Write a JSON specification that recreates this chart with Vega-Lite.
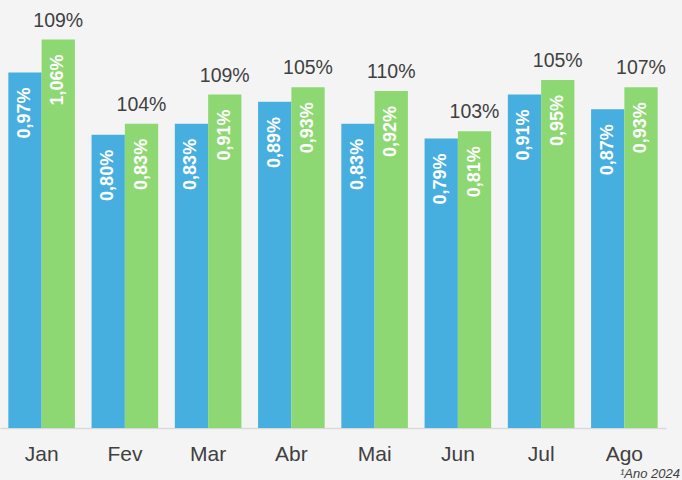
{
  "$schema": "https://vega.github.io/schema/vega-lite/v6.json",
  "width": 666,
  "height": 428,
  "autosize": "none",
  "padding": {"left": 0, "top": 0, "right": 16, "bottom": 52},
  "background": "#F4F4F4",
  "config": {"view": {"stroke": null}, "font": "Liberation Sans"},
  "title": {"text": "¹Ano 2024", "orient": "bottom", "anchor": "end", "fontStyle": "italic", "fontWeight": "normal", "fontSize": 13, "color": "#404040", "offset": 4, "dx": 14},
  "data": {"values": [
    {"month": "Jan", "series": "A", "value": 0.97, "label": "0,97%"},
    {"month": "Jan", "series": "B", "value": 1.06, "label": "1,06%", "ratio": "109%"},
    {"month": "Fev", "series": "A", "value": 0.80, "label": "0,80%"},
    {"month": "Fev", "series": "B", "value": 0.83, "label": "0,83%", "ratio": "104%"},
    {"month": "Mar", "series": "A", "value": 0.83, "label": "0,83%"},
    {"month": "Mar", "series": "B", "value": 0.91, "label": "0,91%", "ratio": "109%"},
    {"month": "Abr", "series": "A", "value": 0.89, "label": "0,89%"},
    {"month": "Abr", "series": "B", "value": 0.93, "label": "0,93%", "ratio": "105%"},
    {"month": "Mai", "series": "A", "value": 0.83, "label": "0,83%"},
    {"month": "Mai", "series": "B", "value": 0.92, "label": "0,92%", "ratio": "110%"},
    {"month": "Jun", "series": "A", "value": 0.79, "label": "0,79%"},
    {"month": "Jun", "series": "B", "value": 0.81, "label": "0,81%", "ratio": "103%"},
    {"month": "Jul", "series": "A", "value": 0.91, "label": "0,91%"},
    {"month": "Jul", "series": "B", "value": 0.95, "label": "0,95%", "ratio": "105%"},
    {"month": "Ago", "series": "A", "value": 0.87, "label": "0,87%"},
    {"month": "Ago", "series": "B", "value": 0.93, "label": "0,93%", "ratio": "107%"}
  ]},
  "encoding": {
    "x": {"field": "month", "type": "nominal", "sort": ["Jan", "Fev", "Mar", "Abr", "Mai", "Jun", "Jul", "Ago"],
      "scale": {"paddingInner": 0.2, "paddingOuter": 0.1},
      "axis": {"title": null, "labelAngle": 0, "labelFontSize": 21, "labelColor": "#404040", "ticks": false, "domainColor": "#D9D9D9", "domainWidth": 1.5, "labelPadding": 15}},
    "xOffset": {"field": "series", "type": "nominal", "scale": {"paddingInner": 0, "paddingOuter": 0}},
    "y": {"field": "value", "type": "quantitative", "scale": {"domain": [0, 1.168]}, "axis": null}
  },
  "layer": [
    {"mark": {"type": "bar"}, "encoding": {"color": {"field": "series", "type": "nominal", "scale": {"range": ["#47AEE0", "#8ED873"]}, "legend": null}}},
    {"mark": {"type": "text", "angle": 270, "align": "right", "baseline": "middle", "dx": -15, "color": "white", "fontWeight": "bold", "fontSize": 18}, "encoding": {"text": {"field": "label"}}},
    {"transform": [{"filter": "datum.series == 'B'"}], "mark": {"type": "text", "baseline": "alphabetic", "dy": -13, "fontSize": 19.5, "color": "#404040"}, "encoding": {"text": {"field": "ratio"}}}
  ]
}
